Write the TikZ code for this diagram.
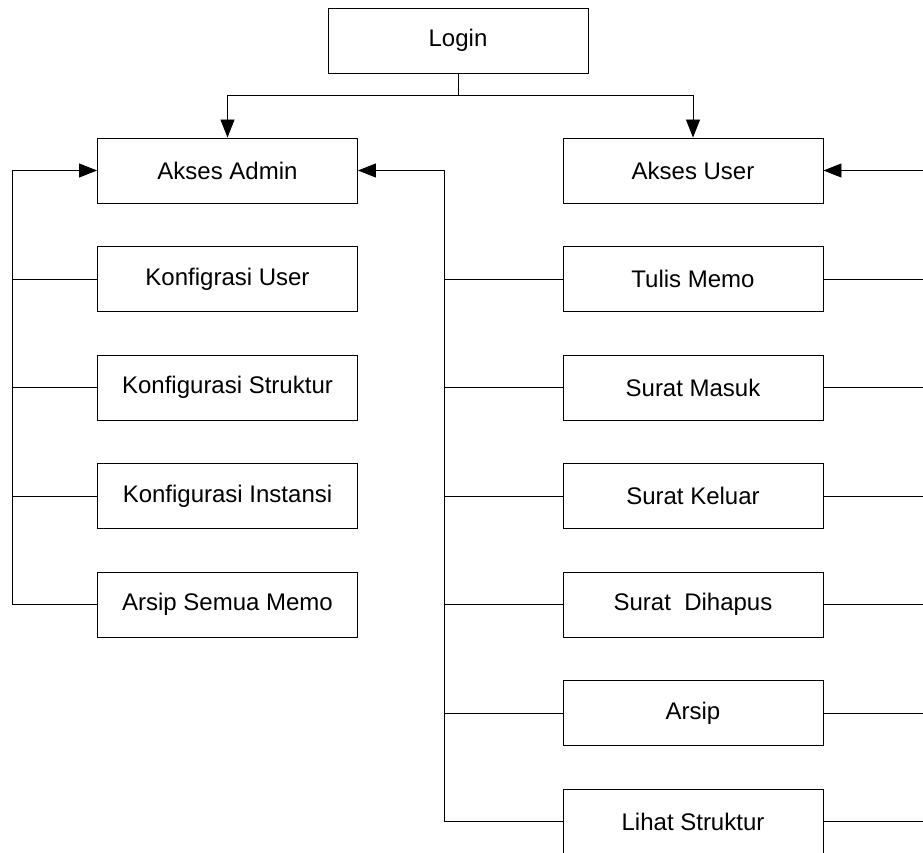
\documentclass[tikz,border=0pt]{standalone}
\usepackage{fontspec}
\setmainfont{Liberation Sans}
\usetikzlibrary{arrows.meta}
\tikzset{
  menubox/.style={draw, line width=0.9pt, minimum width=260pt, minimum height=65pt, inner sep=0pt, font=\fontsize{24}{28}\selectfont},
  link/.style={line width=0.9pt},
  arrowlink/.style={link, -{Triangle[length=18pt, width=14pt]}}
}
\begin{document}
\begin{tikzpicture}[x=1pt, y=-1pt]
  \useasboundingbox (0,0) rectangle (923,853);
  \node[menubox] (login) at (458,40.5) {Login};
  \node[menubox] (admin) at (227.5,170.5) {Akses Admin};
  \node[menubox] (user) at (693,170.5) {Akses User};
  % admin menu
  \node[menubox] (a1) at (227.5,279) {Konfigrasi User};
  \node[menubox] (a2) at (227.5,387.5) {Konfigurasi Struktur};
  \node[menubox] (a3) at (227.5,496) {Konfigurasi Instansi};
  \node[menubox] (a4) at (227.5,604.5) {Arsip Semua Memo};
  % user menu
  \node[menubox] (u1) at (693,279) {Tulis Memo};
  \node[menubox] (u2) at (693,387.5) {Surat Masuk};
  \node[menubox] (u3) at (693,496) {Surat Keluar};
  \node[menubox] (u4) at (693,604.5) {Surat\ \ Dihapus};
  \node[menubox] (u5) at (693,713) {Arsip};
  \node[menubox] (u6) at (693,821.5) {Lihat Struktur};
  \coordinate (split) at (458,95);
  \coordinate (leftbus) at (12,170.5);
  \coordinate (midbus) at (444,170.5);
  \coordinate (rightbus) at (923,170.5);
  \draw[link] (login.south) -- (split);
  \draw[arrowlink] (split) -| (admin.north);
  \draw[arrowlink] (split) -| (user.north);
  \draw[arrowlink] (a4.west) -| (leftbus) -- (admin.west);
  \draw[arrowlink] (u6.west) -| (midbus) -- (admin.east);
  \draw[arrowlink] (rightbus) -- (user.east);
  \foreach \n in {a1,a2,a3}
    \draw[link] (\n.west) -- (\n.west -| leftbus);
  \foreach \n in {u1,u2,u3,u4,u5}
    \draw[link] (\n.west) -- (\n.west -| midbus);
  \foreach \n in {u1,u2,u3,u4,u5,u6}
    \draw[link] (\n.east) -- (\n.east -| rightbus);
\end{tikzpicture}
\end{document}
